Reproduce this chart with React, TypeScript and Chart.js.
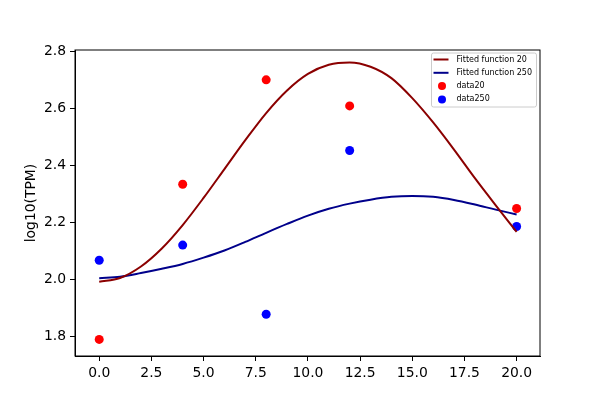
import React, { useEffect, useRef } from "react";
import { Chart, registerables } from "chart.js";

Chart.register(...registerables);

// measured points
const timeX = [0, 4, 8, 12, 20];
const data20 = [1.791, 2.334, 2.699, 2.608, 2.249];
const data250 = [2.068, 2.121, 1.879, 2.452, 2.186];

// fitted curves
const curveX = [0, 1, 2, 3, 4, 5, 6, 7, 8, 9, 10, 11, 12, 13, 14, 15, 16, 17, 18, 19, 20];
const fit20 = [
  1.993, 2.006, 2.046, 2.109, 2.191, 2.286, 2.387, 2.488, 2.583, 2.662, 2.72,
  2.752, 2.76, 2.745, 2.705, 2.635, 2.55, 2.455, 2.355, 2.26, 2.167,
];
const fit250 = [
  2.005, 2.01, 2.023, 2.038, 2.055, 2.077, 2.102, 2.132, 2.164, 2.195, 2.224,
  2.248, 2.266, 2.28, 2.29, 2.293, 2.29, 2.279, 2.263, 2.245, 2.228,
];

const xTicks = [0, 2.5, 5, 7.5, 10, 12.5, 15, 17.5, 20];
const yTicks = [1.8, 2.0, 2.2, 2.4, 2.6, 2.8];

const legendItems = [
  { label: "Fitted function 20", color: "#8b0000", kind: "line" },
  { label: "Fitted function 250", color: "#00008b", kind: "line" },
  { label: "data20", color: "#ff0000", kind: "dot" },
  { label: "data250", color: "#0000ff", kind: "dot" },
];

const FONT = "'DejaVu Sans', sans-serif";

const framePlugin = {
  id: "frame",
  afterDraw(chart: any) {
    const { ctx, chartArea } = chart;
    ctx.save();
    ctx.strokeStyle = "#000";
    ctx.lineWidth = 1;
    ctx.strokeRect(chartArea.left, chartArea.top, chartArea.right - chartArea.left, chartArea.bottom - chartArea.top);

    // legend box in upper right
    const right = chartArea.right - 3.5;
    const top = chartArea.top + 3;
    const w = 105;
    const h = 54;
    const left = right - w;
    ctx.fillStyle = "rgba(255,255,255,0.8)";
    ctx.strokeStyle = "#cccccc";
    ctx.lineWidth = 1;
    ctx.beginPath();
    ctx.roundRect(left, top, w, h, 2);
    ctx.fill();
    ctx.stroke();
    ctx.font = "8px " + FONT;
    ctx.textBaseline = "middle";
    ctx.textAlign = "left";
    legendItems.forEach((it, i) => {
      const y = top + 6.5 + i * 13.3;
      if (it.kind === "line") {
        ctx.strokeStyle = it.color;
        ctx.lineWidth = 2;
        ctx.beginPath();
        ctx.moveTo(left + 2, y);
        ctx.lineTo(left + 17, y);
        ctx.stroke();
      } else {
        ctx.fillStyle = it.color;
        ctx.beginPath();
        ctx.arc(left + 10.5, y, 4, 0, Math.PI * 2);
        ctx.fill();
      }
      ctx.fillStyle = "#000";
      ctx.fillText(it.label, left + 25, y);
    });
    ctx.restore();
  },
};

const App = () => {
  const chartRef = useRef<HTMLCanvasElement>(null);
  const chartInstance = useRef<any>(null);

  useEffect(() => {
    document.body.style.margin = "0";
    if (!chartRef.current) return;
    if (chartInstance.current) chartInstance.current.destroy();

    const tickFont = { family: FONT, size: 13.9 };

    chartInstance.current = new Chart(chartRef.current, {
      type: "scatter",
      data: {
        datasets: [
          {
            label: "Fitted function 20",
            data: curveX.map((x, i) => ({ x, y: fit20[i] })),
            showLine: true,
            borderColor: "#8b0000",
            borderWidth: 2,
            pointRadius: 0,
            cubicInterpolationMode: "monotone",
            order: 0,
          },
          {
            label: "Fitted function 250",
            data: curveX.map((x, i) => ({ x, y: fit250[i] })),
            showLine: true,
            borderColor: "#00008b",
            borderWidth: 2,
            pointRadius: 0,
            cubicInterpolationMode: "monotone",
            order: 0,
          },
          {
            label: "data20",
            data: timeX.map((x, i) => ({ x, y: data20[i] })),
            backgroundColor: "#ff0000",
            borderWidth: 0,
            pointRadius: 4.5,
            order: 1,
          },
          {
            label: "data250",
            data: timeX.map((x, i) => ({ x, y: data250[i] })),
            backgroundColor: "#0000ff",
            borderWidth: 0,
            pointRadius: 4.5,
            order: 1,
          },
        ],
      },
      options: {
        animation: false,
        responsive: true,
        maintainAspectRatio: false,
        layout: { padding: { left: 0, top: 50, right: 60, bottom: 0 } },
        plugins: {
          legend: { display: false },
          tooltip: { enabled: false },
        },
        scales: {
          x: {
            type: "linear",
            min: -1.16,
            max: 21.12,
            afterBuildTicks: (s: any) => {
              s.ticks = xTicks.map((v) => ({ value: v }));
            },
            afterFit: (s: any) => {
              s.height = 44;
            },
            ticks: {
              color: "#000",
              font: tickFont,
              padding: 4,
              maxRotation: 0,
              callback: (v: any) => Number(v).toFixed(1),
            },
            grid: { drawOnChartArea: false, drawTicks: true, tickLength: 5, color: "#000" },
            border: { display: true, color: "#000" },
          },
          y: {
            type: "linear",
            min: 1.733,
            max: 2.8035,
            afterBuildTicks: (s: any) => {
              s.ticks = yTicks.map((v) => ({ value: v }));
            },
            afterFit: (s: any) => {
              s.width = 75;
            },
            ticks: {
              color: "#000",
              font: tickFont,
              padding: 4,
              callback: (v: any) => Number(v).toFixed(1),
            },
            grid: { drawOnChartArea: false, drawTicks: true, tickLength: 5, color: "#000" },
            border: { display: true, color: "#000" },
            title: {
              display: true,
              text: "log10(TPM)",
              color: "#000",
              font: tickFont,
              padding: { top: 23, bottom: 0 },
            },
          },
        },
      },
      plugins: [framePlugin],
    });

    return () => {
      if (chartInstance.current) {
        chartInstance.current.destroy();
        chartInstance.current = null;
      }
    };
  }, []);

  return (
    <div style={{ width: 600, height: 400, position: "relative", background: "#fff" }}>
      <canvas ref={chartRef} />
    </div>
  );
};

export default App;
